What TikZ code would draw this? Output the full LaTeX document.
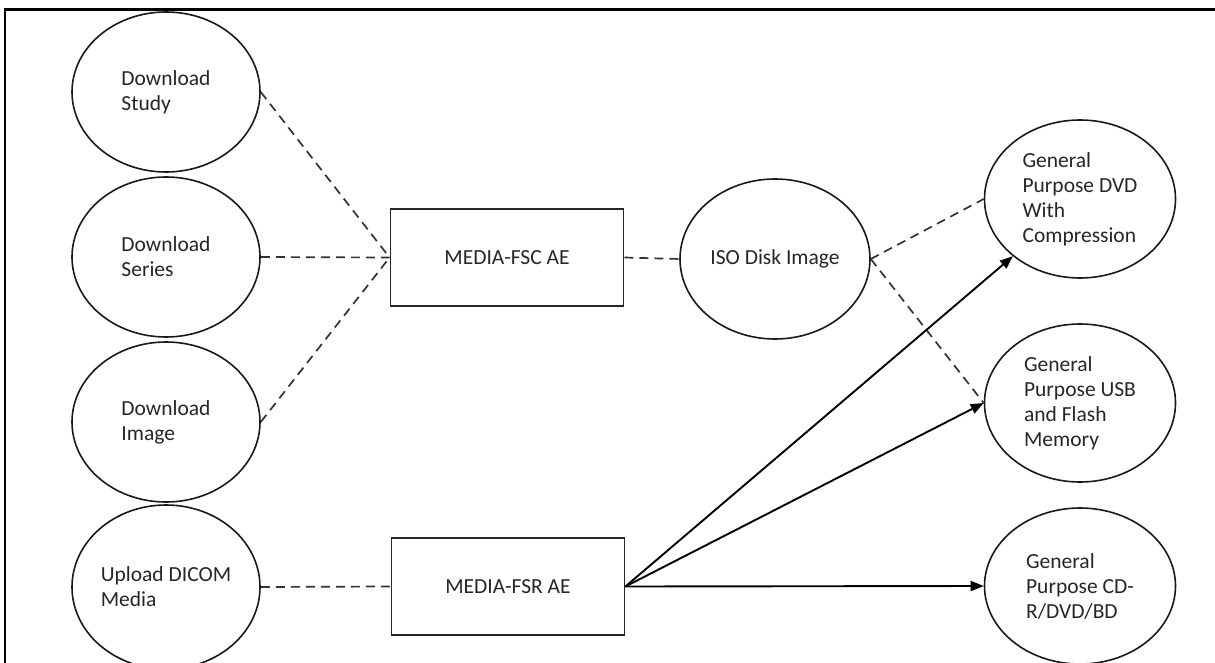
\documentclass[tikz,border=0pt]{standalone}
\usepackage{fontspec}
\setmainfont{Carlito}
\usetikzlibrary{shapes.geometric,arrows.meta}
\begin{document}
\begin{tikzpicture}[x=1pt,y=-1pt,
  every node/.style={font=\fontsize{21.5}{25}\selectfont, text=black!85},
  oval/.style={ellipse, draw=black!90, line width=1.6pt, inner sep=0pt, align=left},
  aebox/.style={rectangle, draw=black!85, line width=1.8pt, inner sep=0pt, minimum width=233pt, minimum height=97pt},
  dashlink/.style={draw=black!80, line width=1.7pt, dash pattern=on 9pt off 6pt},
  arrowlink/.style={draw=black, line width=1.9pt, -{Triangle[length=13pt,width=10pt]}}
]
\clip (0,0) rectangle (1215,663);
\fill[white] (0,0) rectangle (1215,663);
% frame
\coordinate (ftl) at (5,9.5);
\coordinate (ftr) at (1215,9.5);
\coordinate (fbl) at (5,663);
\draw[line width=2.8pt, black] (fbl) -- (ftl) -- (ftr);

% left column
\node[oval, minimum width=188pt, minimum height=160pt] (study) at (166,92) {Download\\Study};
\node[oval, minimum width=188pt, minimum height=160pt] (series) at (166,257) {Download\\Series};
\node[oval, minimum width=188pt, minimum height=160pt] (image) at (166,422) {Download\\Image};
\node[oval, minimum width=188pt, minimum height=164pt] (upload) at (166,587) {Upload DICOM\\Media};

% boxes
\node[aebox] (fsc) at (507,257.5) {MEDIA-FSC AE};
\node[aebox] (fsr) at (508,586.5) {MEDIA-FSR AE};

% ISO
\node[oval, minimum width=190pt, minimum height=160pt] (iso) at (775,259) {ISO Disk Image};

% right column
\node[oval, minimum width=191pt, minimum height=158pt] (dvd) at (1080,199) {General\\Purpose DVD\\With\\Compression};
\node[oval, minimum width=191pt, minimum height=158pt] (usb) at (1080,403) {General\\Purpose USB\\and Flash\\Memory};
\node[oval, minimum width=191pt, minimum height=156pt] (cd) at (1080,586) {General\\Purpose CD-\\R/DVD/BD};

% dashed links
\draw[dashlink] (study.east) -- (fsc.west);
\draw[dashlink] (series.east) -- (fsc.west);
\draw[dashlink] (image.east) -- (fsc.west);
\draw[dashlink] (upload.east) -- (fsr.west);
\draw[dashlink] (fsc.east) -- (iso.west);
\draw[dashlink] (iso.east) -- (dvd.west);
\draw[dashlink] (iso.east) -- (usb.west);

% arrows
\draw[arrowlink] (fsr.east) -- (dvd);
\draw[arrowlink] (fsr.east) -- (usb.west);
\draw[arrowlink] (fsr.east) -- (cd.west);
\end{tikzpicture}
\end{document}
